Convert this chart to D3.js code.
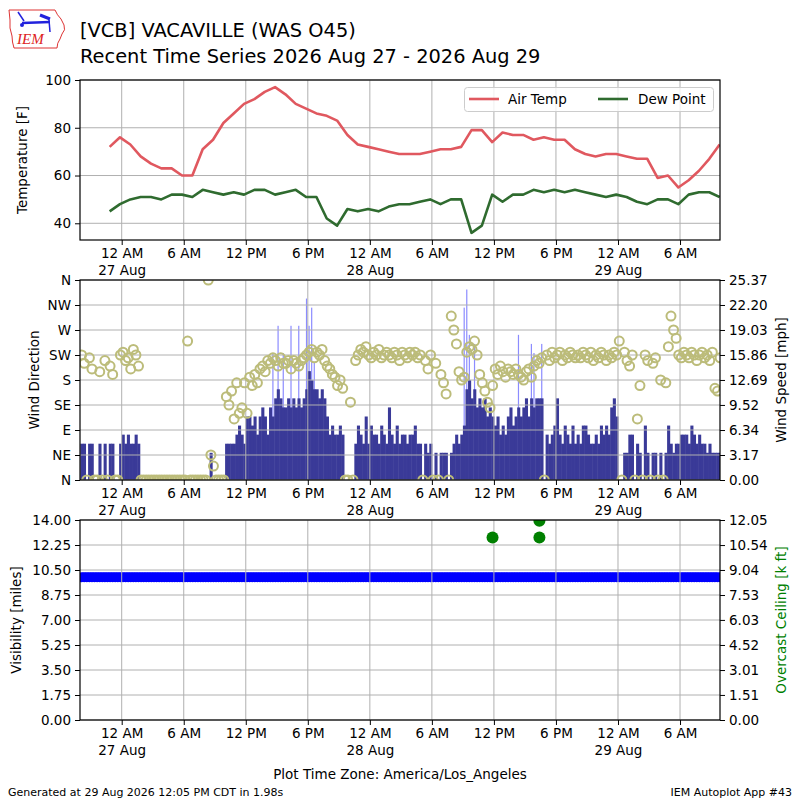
<!DOCTYPE html>
<html>
<head>
<meta charset="utf-8">
<script src="https://cdn.jsdelivr.net/npm/d3@7"></script>
<style>
  body { margin: 0; background: #fff; }
  svg { font-family: "DejaVu Sans", sans-serif; }
</style>
</head>
<body>
<svg id="chart" width="800" height="800"></svg>
<script>
// hourly obs, first one at 22:50 on 26 Aug (local time)
const tempStart = Date.UTC(2026, 7, 26, 22, 50);
const airTemp = [72,76,73,68,65,63,63,60,60,71,75,82,86,90,92,95,97,94,90,88,86,85,83,77,73,72,71,70,69,
  69,69,70,71,71,72,79,79,74,78,77,77,75,76,75,75,71,69,68,69,69,68,67,67,59,60,55,58,62,67,73];
const dewPoint = [45,48,50,51,51,50,52,52,51,54,53,52,53,52,54,54,52,53,54,51,51,42,39,46,45,46,45,47,48,
  48,49,50,48,50,50,36,39,52,49,52,52,54,53,54,53,54,53,52,51,52,51,49,48,50,50,48,52,53,53,51];

// wind obs in 15 minute slots starting 20:00 on 26 Aug
const windStart = Date.UTC(2026, 7, 26, 20, 0);
const windSpeedKt = [
  4,4,0,4,4,0,0,4,0,4, 0,4,4,0,0,4,5,4,5,4, 4,5,4,0,0,0,0,0,0,0, 0,0,0,0,0,0,0,0,0,0,
  0,0,0,0,0,0,0,0,0,0, 3,0,0,0,0,0,4,4,4,4, 5,6,5,4,7,7,6,7,5,7, 8,7,5,8,7,9,10,9,8,8,
  9,8,9,8,9,8,9,10,12,11, 10,10,9,10,9,7,5,6,5,5, 6,5,0,0,0,0,4,6,5,4, 7,4,6,5,5,4,6,5,4,8,
  5,4,6,4,5,5,4,5,5,6, 4,4,0,4,3,4,0,3,0,3, 3,3,0,3,4,5,4,5,6,10, 11,9,10,8,9,8,9,7,8,7,
  6,7,5,6,5,7,8,6,7,8, 7,8,9,7,9,8,9,9,9,0, 5,4,5,6,9,5,4,6,5,4, 6,4,5,4,6,6,5,4,4,5,
  4,6,5,6,5,8,9,7,0,0, 3,3,5,5,0,4,3,0,6,3, 0,3,3,0,3,0,3,6,4,3, 4,4,5,5,5,4,6,5,4,5,
  4,4,3,4,3,3,3,3];
const windDir = [
  225,210,0,220,200,0,0,195,0,215, 0,205,190,0,0,225,230,215,220,200, 235,225,205,0,0,0,0,0,0,0, 0,0,0,0,0,0,0,0,0,0,
  0,250,0,0,0,0,0,0,0,360, 45,25,0,0,0,0,150,135,160,110, 175,120,130,175,120,185,170,190,175,200,
  205,195,215,210,220,215,205,220,210,210, 215,200,215,210,205,215,220,225,230,235,
  220,230,225,235,215,205,200,190,185,170, 180,165,0,0,140,0,215,225,235,230,
  240,225,220,230,225,235,220,225,230,225, 220,230,225,215,230,225,220,230,225,230,
  220,225,0,215,200,225,0,210,0,190, 175,155,0,295,270,245,195,180,185,230,
  240,235,250,225,190,175,160,140,130,170, 200,190,205,195,185,200,195,190,200,190,
  185,180,195,200,185,205,215,210,220,0, 225,215,230,220,225,230,215,225,220,230,
  225,220,225,220,230,225,220,230,215,225, 220,230,225,215,225,220,230,225,250,0,
  230,215,205,225,0,110,170,0,225,215, 0,210,220,0,180,0,175,240,295,270,
  255,225,220,230,225,220,230,225,215,225, 230,220,225,215,230,165,160,220];
const gustSlot = [74,76,78,81,84,87,88,89,90,148,149,150,152,169,174,175,178];
const gustKt = [14,17,14,17,17,20,17,19,13,19,21,16,15,16,15,14,15];

// visibility [miles], same 15 minute slots
const visibility = [
  10,10,10,10,10,10,10,10,10,10, 10,10,10,10,10,10,10,10,10,10, 10,10,10,10,10,10,10,10,10,10,
  10,10,10,10,10,10,10,10,10,10, 10,10,10,10,10,10,10,10,10,10, 10,10,10,10,10,10,10,10,10,10,
  10,10,10,10,10,10,10,10,10,10, 10,10,10,10,10,10,10,10,10,10, 10,10,10,10,10,10,10,10,10,10,
  10,10,10,10,10,10,10,10,10,10, 10,10,10,10,10,10,10,10,10,10, 10,10,10,10,10,10,10,10,10,10,
  10,10,10,10,10,10,10,10,10,10, 10,10,10,10,10,10,10,10,10,10, 10,10,10,10,10,10,10,10,10,10,
  10,10,10,10,10,10,10,10,10,10, 10,10,10,10,10,10,10,10,10,10, 10,10,10,10,10,10,10,10,10,10,
  10,10,10,10,10,10,10,10,10,10, 10,10,10,10,10,10,10,10,10,10, 10,10,10,10,10,10,10,10,10,10,
  10,10,10,10,10,10,10,10,10,10, 10,10,10,10,10,10,10,10,10,10, 10,10,10,10,10,10,10,10,10,10,
  10,10,10,10,10,10,10,10];

// overcast ceiling obs
const ceilTimes = [Date.UTC(2026,7,28,11,52), Date.UTC(2026,7,28,16,24), Date.UTC(2026,7,28,16,24)];
const ceilKft = [11, 11, 12];

const tempTicks = [40, 60, 80, 100];
const dirLabels = ["N","NE","E","SE","S","SW","W","NW","N"];
const speedTicks = [0, 3.17, 6.34, 9.52, 12.69, 15.86, 19.03, 22.20, 25.37];
const visTicks = [0, 1.75, 3.5, 5.25, 7, 8.75, 10.5, 12.25, 14];
const ceilTicks = [0, 1.51, 3.01, 4.52, 6.03, 7.53, 9.04, 10.54, 12.05];

const KT2MPH = 1.15078;
const SLOT = 15 * 60 * 1000;
const HOUR = 3600 * 1000;

const svg = d3.select("#chart");
const L = 80, R = 720;
const tempBox = {top: 80, bottom: 240};
const windBox = {top: 280, bottom: 480};
const visBox = {top: 520, bottom: 720};

const x = d3.scaleUtc()
  .domain([new Date(Date.UTC(2026, 7, 26, 19, 58)), new Date(Date.UTC(2026, 7, 29, 9, 52))])
  .range([L, R]);
const yTemp = d3.scaleLinear().domain([33, 100]).range([tempBox.bottom, tempBox.top]);
const yDir = d3.scaleLinear().domain([0, 360]).range([windBox.bottom, windBox.top]);
const ySpeed = d3.scaleLinear().domain([0, 25.37]).range([windBox.bottom, windBox.top]);
const yVis = d3.scaleLinear().domain([0, 14]).range([visBox.bottom, visBox.top]);
const yCeil = d3.scaleLinear().domain([0, 12.05]).range([visBox.bottom, visBox.top]);

const xTicks = d3.utcHour.every(6).range(x.domain()[0], x.domain()[1]);
const tempTimes = airTemp.map((d, i) => new Date(tempStart + i * HOUR));
const windTimes = windSpeedKt.map((d, i) => new Date(windStart + i * SLOT));

// clip paths
const defs = svg.append("defs");
[["clipTemp", tempBox], ["clipWind", windBox], ["clipVis", visBox]].forEach(([id, b]) => {
  defs.append("clipPath").attr("id", id)
    .append("rect").attr("x", L).attr("y", b.top).attr("width", R - L).attr("height", b.bottom - b.top);
});

function hourLabel(d) {
  const h = d.getUTCHours();
  if (h === 0) return "12 AM";
  if (h === 12) return "12 PM";
  return (h % 12) + (h < 12 ? " AM" : " PM");
}

function styleAxis(g) {
  g.attr("font-family", "DejaVu Sans, sans-serif").attr("font-size", 13.5);
  g.select(".domain").remove();
  g.selectAll(".tick line").attr("stroke", "#000").attr("stroke-width", 1);
  g.selectAll(".tick text").attr("fill", "#000");
}

function drawGrid(box, yVals, yScale) {
  const g = svg.append("g").attr("stroke", "#b0b0b0").attr("stroke-width", 1);
  xTicks.forEach(t => {
    g.append("line").attr("x1", x(t)).attr("x2", x(t)).attr("y1", box.top).attr("y2", box.bottom);
  });
  yVals.forEach(v => {
    g.append("line").attr("x1", L).attr("x2", R).attr("y1", yScale(v)).attr("y2", yScale(v));
  });
}

function drawXAxis(box) {
  const g = svg.append("g").attr("transform", `translate(0,${box.bottom})`)
    .call(d3.axisBottom(x).tickValues(xTicks).tickSize(5).tickPadding(3).tickFormat(hourLabel));
  styleAxis(g);
  g.selectAll(".tick text").each(function(d) {
    if (d.getUTCHours() === 0) {
      d3.select(this).append("tspan").attr("x", 0).attr("dy", "1.26em").text(d3.utcFormat("%d %b")(d));
    }
  });
}

function drawFrame(box) {
  svg.append("rect").attr("x", L).attr("y", box.top).attr("width", R - L).attr("height", box.bottom - box.top)
    .attr("fill", "none").attr("stroke", "#000").attr("stroke-width", 1.2);
}

function yLabel(text, cx, cy, color, rot) {
  svg.append("text").attr("transform", `translate(${cx},${cy}) rotate(${rot || -90})`)
    .attr("text-anchor", "middle").attr("dominant-baseline", "central")
    .attr("font-size", 13.5).attr("fill", color || "#000").text(text);
}

// ---------- header ----------
const logo = svg.append("g");
logo.append("path")
  .attr("d", "M9,10 L55,10 Q57,15 61,19 L64,25 Q66,30 62,34 L60,39 Q57,43 57,48 L14,48 Q12,42 12,36 Q9,28 10,20 Z")
  .attr("fill", "none").attr("stroke", "#d33").attr("stroke-width", 1);
logo.append("line").attr("x1", 22).attr("y1", 23).attr("x2", 50).attr("y2", 22).attr("stroke", "#22d").attr("stroke-width", 2.5);
logo.append("line").attr("x1", 18).attr("y1", 12).attr("x2", 24).attr("y2", 21).attr("stroke", "#22d").attr("stroke-width", 1.5);
logo.append("line").attr("x1", 40).attr("y1", 15).attr("x2", 50).attr("y2", 19).attr("stroke", "#22d").attr("stroke-width", 3);
logo.append("line").attr("x1", 49).attr("y1", 20).attr("x2", 50).attr("y2", 32).attr("stroke", "#22d").attr("stroke-width", 1.5);
logo.append("circle").attr("cx", 22).attr("cy", 25).attr("r", 2).attr("fill", "#22d");
logo.append("text").attr("x", 17).attr("y", 44).attr("font-family", "Liberation Serif, serif")
  .attr("font-style", "italic").attr("font-size", 15).attr("fill", "#d22").text("IEM");

svg.append("text").attr("x", 80).attr("y", 37).attr("font-size", 19.4).text("[VCB] VACAVILLE (WAS O45)");
svg.append("text").attr("x", 80).attr("y", 63).attr("font-size", 19.4).text("Recent Time Series 2026 Aug 27 - 2026 Aug 29");

// ---------- temperature panel ----------
drawGrid(tempBox, tempTicks, yTemp);
const tempLayer = svg.append("g").attr("clip-path", "url(#clipTemp)");
const tLine = d3.line().x((d, i) => x(tempTimes[i])).y(d => yTemp(d));
tempLayer.append("path").datum(airTemp).attr("d", tLine)
  .attr("fill", "none").attr("stroke", "#e0585f").attr("stroke-width", 2.6).attr("stroke-linejoin", "round");
tempLayer.append("path").datum(dewPoint).attr("d", tLine)
  .attr("fill", "none").attr("stroke", "#2f6b2f").attr("stroke-width", 2.6).attr("stroke-linejoin", "round");
drawFrame(tempBox);
styleAxis(svg.append("g").attr("transform", `translate(${L},0)`)
  .call(d3.axisLeft(yTemp).tickValues(tempTicks).tickSize(5).tickPadding(4)));
drawXAxis(tempBox);
yLabel("Temperature [F]", 22, 160);

// legend
const leg = svg.append("g");
leg.append("rect").attr("x", 464.5).attr("y", 87.5).attr("width", 249).attr("height", 24).attr("rx", 3)
  .attr("fill", "#fff").attr("fill-opacity", 0.8).attr("stroke", "#ccc");
leg.append("line").attr("x1", 469).attr("x2", 499).attr("y1", 99).attr("y2", 99).attr("stroke", "#e0585f").attr("stroke-width", 2.6);
leg.append("text").attr("x", 508).attr("y", 104).attr("font-size", 13.5).text("Air Temp");
leg.append("line").attr("x1", 598).attr("x2", 628).attr("y1", 99).attr("y2", 99).attr("stroke", "#2f6b2f").attr("stroke-width", 2.6);
leg.append("text").attr("x", 638).attr("y", 104).attr("font-size", 13.5).text("Dew Point");

// ---------- wind panel ----------
const windLayer = svg.append("g").attr("clip-path", "url(#clipWind)");
windLayer.selectAll("rect.gust").data(gustSlot).join("rect").attr("class", "gust")
  .attr("x", (s) => x(new Date(windStart + s * SLOT + SLOT / 2)) - 0.6)
  .attr("width", 1.2)
  .attr("y", (s, i) => ySpeed(gustKt[i] * KT2MPH))
  .attr("height", (s, i) => windBox.bottom - ySpeed(gustKt[i] * KT2MPH))
  .attr("fill", "#8c8cff");
// bars slightly overlap so antialiasing leaves no seams between neighbours
windLayer.selectAll("rect.spd").data(windSpeedKt).join("rect").attr("class", "spd")
  .attr("x", (d, i) => x(windTimes[i]))
  .attr("width", (d, i) => x(new Date(+windTimes[i] + SLOT)) - x(windTimes[i]) + 0.5)
  .attr("y", d => ySpeed(d * KT2MPH))
  .attr("height", d => windBox.bottom - ySpeed(d * KT2MPH))
  .attr("fill", "#3a3a98");
drawGrid(windBox, d3.range(0, 361, 45), yDir);
const dirLayer = svg.append("g").attr("clip-path", "url(#clipWind)");
dirLayer.selectAll("circle").data(windDir).join("circle")
  .attr("cx", (d, i) => x(new Date(+windTimes[i] + SLOT / 2)))
  .attr("cy", d => yDir(d))
  .attr("r", 4.5).attr("fill", "none").attr("stroke", "#bcbc7a").attr("stroke-width", 2);
drawFrame(windBox);
const dirAxis = svg.append("g").attr("transform", `translate(${L},0)`)
  .call(d3.axisLeft(yDir).tickValues(d3.range(0, 361, 45)).tickSize(5).tickPadding(4)
    .tickFormat((d, i) => dirLabels[i]));
styleAxis(dirAxis);
styleAxis(svg.append("g").attr("transform", `translate(${R},0)`)
  .call(d3.axisRight(ySpeed).tickValues(speedTicks).tickSize(5).tickPadding(4).tickFormat(d3.format(".2f"))));
drawXAxis(windBox);
yLabel("Wind Direction", 34, 380);
yLabel("Wind Speed [mph]", 781, 380);

// ---------- visibility panel ----------
const visLayer = svg.append("g").attr("clip-path", "url(#clipVis)");
visLayer.selectAll("circle").data(visibility).join("circle")
  .attr("cx", (d, i) => x(new Date(+windTimes[i] + SLOT / 2)))
  .attr("cy", d => yVis(d))
  .attr("r", 5).attr("fill", "#0000ff");
drawGrid(visBox, visTicks, yVis);
const ceilLayer = svg.append("g").attr("clip-path", "url(#clipVis)");
ceilLayer.selectAll("circle").data(ceilKft).join("circle")
  .attr("cx", (d, i) => x(new Date(ceilTimes[i])))
  .attr("cy", d => yCeil(d))
  .attr("r", 6).attr("fill", "#008000");
drawFrame(visBox);
styleAxis(svg.append("g").attr("transform", `translate(${L},0)`)
  .call(d3.axisLeft(yVis).tickValues(visTicks).tickSize(5).tickPadding(4).tickFormat(d3.format(".2f"))));
styleAxis(svg.append("g").attr("transform", `translate(${R},0)`)
  .call(d3.axisRight(yCeil).tickValues(ceilTicks).tickSize(5).tickPadding(4).tickFormat(d3.format(".2f"))));
drawXAxis(visBox);
yLabel("Visibility [miles]", 16, 620);
yLabel("Overcast Ceiling [k ft]", 781, 620, "#008000");

// ---------- footer ----------
svg.append("text").attr("x", 400).attr("y", 779).attr("text-anchor", "middle").attr("font-size", 13.5)
  .text("Plot Time Zone: America/Los_Angeles");
svg.append("text").attr("x", 8).attr("y", 796).attr("font-size", 11)
  .text("Generated at 29 Aug 2026 12:05 PM CDT in 1.98s");
svg.append("text").attr("x", 792).attr("y", 796).attr("text-anchor", "end").attr("font-size", 11)
  .text("IEM Autoplot App #43");
</script>
</body>
</html>
